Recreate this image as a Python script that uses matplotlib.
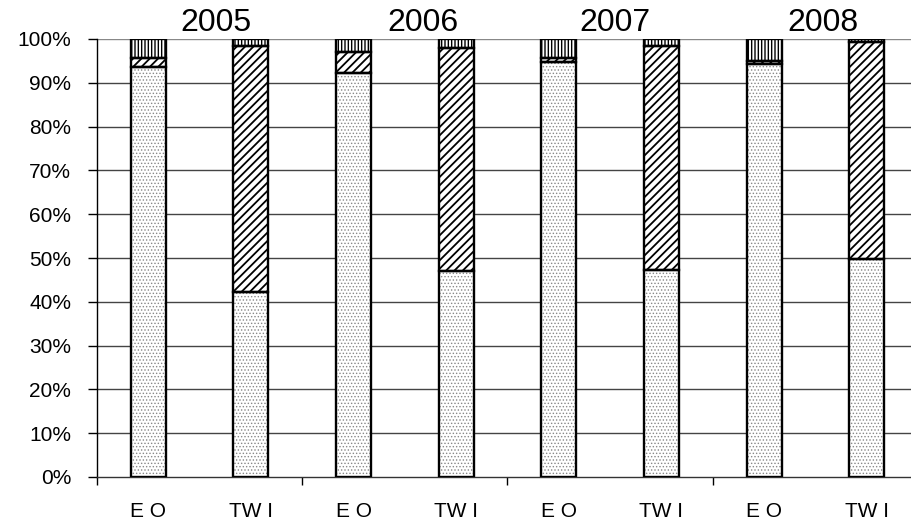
import matplotlib
matplotlib.use("Agg")
import matplotlib.pyplot as plt
import numpy as np

plt.rcParams['font.family'] = ['Liberation Sans', 'DejaVu Sans']

years = ["2005", "2006", "2007", "2008"]
groups = ["E O", "TW I"]
categories = [g for y in years for g in groups]

# Percentage shares per bar (EO, TWI for each year)
dotted = [93.6, 42.3, 92.3, 47.0, 94.8, 47.3, 94.4, 49.8]
diagonal = [2.0, 56.0, 4.7, 50.9, 0.8, 51.1, 0.6, 49.5]
vertical = [100 - a - b for a, b in zip(dotted, diagonal)]

fig = plt.figure(figsize=(9.12, 5.23), dpi=100)
ax = fig.add_axes([97 / 912, 46 / 523, 821 / 912, 438 / 523])

x = np.arange(len(categories))
width = 0.34

# gridlines
for v in range(10, 101, 10):
    ax.axhline(v, color='#444444' if v < 100 else '#888888', lw=1.0, zorder=1)

bottom = np.zeros(len(x))
segments = [(dotted, '.....', '#888888', 0.6),
            (diagonal, '////', 'black', 1.3),
            (vertical, '|||||', 'black', 1.0)]
for vals, hatch, hc, hlw in segments:
    vals = np.array(vals)
    with plt.rc_context({'hatch.linewidth': hlw}):
        bars = ax.bar(x, vals, width, bottom=bottom, color='white', edgecolor=hc,
                      hatch=hatch, linewidth=0, zorder=2)
        for b in bars:
            if hasattr(b, 'set_hatch_linewidth'):
                b.set_hatch_linewidth(hlw)
    ax.bar(x, vals, width, bottom=bottom, fill=False, edgecolor='black',
           linewidth=1.7, zorder=3)
    bottom += vals

ax.set_xlim(-0.5, 7.5)
ax.set_ylim(0, 100)

ax.set_yticks(range(0, 101, 10))
ax.set_yticklabels([f"{v}%" for v in range(0, 101, 10)], fontsize=15)
ax.tick_params(axis='y', direction='out', length=6.5, width=1, pad=12)

ax.set_xticks([-0.5, 1.5, 3.5, 5.5])
ax.set_xticklabels([])
ax.set_xticks(x, minor=True)
ax.set_xticklabels(categories, minor=True, fontsize=15)
ax.tick_params(axis='x', which='major', direction='out', length=6, width=1)
ax.tick_params(axis='x', which='minor', length=0, pad=18)

for s in ['top', 'right']:
    ax.spines[s].set_visible(False)
ax.spines['left'].set_linewidth(1.0)
ax.spines['bottom'].set_linewidth(1.0)
ax.spines['bottom'].set_color('#333333')

year_x = [0.66, 2.68, 4.55, 6.57]
for yx, yr in zip(year_x, years):
    ax.annotate(yr, (yx, 100), xytext=(0, 6), textcoords='offset points',
                ha='center', va='baseline', fontsize=23, annotation_clip=False)

fig.savefig("out.png", dpi=100)
